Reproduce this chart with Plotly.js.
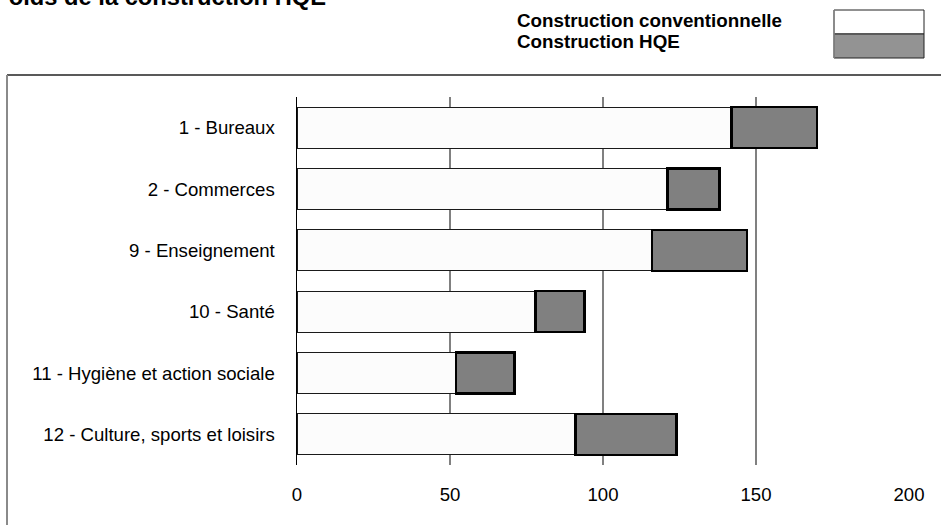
<!DOCTYPE html>
<html>
<head>
<meta charset="utf-8">
<script src="https://cdn.plot.ly/plotly-3.0.1.min.js"></script>
<style>
html,body{margin:0;padding:0;background:#fff;}
#chart{width:941px;height:525px;}
</style>
</head>
<body>
<div id="chart"></div>
<script>
// Data
const categories = [
  "1 - Bureaux",
  "2 - Commerces",
  "9 - Enseignement",
  "10 - Santé",
  "11 - Hygiène et action sociale",
  "12 - Culture, sports et loisirs"
];
const conventionnelle = [142, 121, 116, 78, 52, 91];
const surcoutHQE = [28, 17, 31, 16, 19, 33];
const xTicks = [0, 50, 100, 150, 200];
const seriesNames = ["Construction conventionnelle", "Construction HQE"];
const titleText = "Poids de la construction HQE";

// Layout helpers (pixel -> paper)
const W = 941, H = 525;
const M = {l: 297, r: 32, t: 97, b: 60};
const PW = W - M.l - M.r, PH = H - M.t - M.b;
const px = x => (x - M.l) / PW;
const py = y => (H - M.b - y) / PH;

const FONT = "Liberation Sans, Arial, Helvetica, sans-serif";

const traces = [
  {
    type: "bar", orientation: "h",
    y: categories, x: conventionnelle, name: seriesNames[0],
    marker: {color: "#fcfcfc", line: {color: "#1a1a1a", width: 1}},
    showlegend: false, hoverinfo: "x+y"
  },
  {
    type: "bar", orientation: "h",
    y: categories, x: surcoutHQE, name: seriesNames[1],
    marker: {color: "#808080", line: {color: "#000000", width: 2.5}},
    showlegend: false, hoverinfo: "x+y"
  }
];

const layout = {
  width: W, height: H,
  margin: M,
  paper_bgcolor: "#ffffff", plot_bgcolor: "#ffffff",
  barmode: "stack",
  bargap: 0.33,
  font: {family: FONT, size: 18.6, color: "#000"},
  xaxis: {
    range: [0, 200],
    tickvals: xTicks,
    ticktext: xTicks.map(String),
    showgrid: true, gridcolor: "#808080", gridwidth: 1.5,
    zeroline: false, showline: false,
    ticks: "", ticklabelstandoff: 16,
    tickfont: {family: FONT, size: 18.6, color: "#000"},
    fixedrange: true
  },
  yaxis: {
    autorange: "reversed",
    showgrid: false, zeroline: false,
    showline: true, linecolor: "#000", linewidth: 1.5,
    ticks: "", ticklabelstandoff: 17,
    tickfont: {family: FONT, size: 18.6, color: "#000"},
    fixedrange: true
  },
  shapes: [
    // outer frame (top dark, left gray)
    {type: "line", xref: "paper", yref: "paper", x0: px(7), x1: px(960), y0: py(75), y1: py(75),
     line: {color: "#222", width: 1.5}},
    {type: "line", xref: "paper", yref: "paper", x0: px(7), x1: px(7), y0: py(75), y1: py(540),
     line: {color: "#8a8a8a", width: 2}},
    // legend swatches
    {type: "rect", xref: "paper", yref: "paper", x0: px(834), x1: px(924), y0: py(34), y1: py(10),
     fillcolor: "#ffffff", line: {color: "#222", width: 1}},
    {type: "rect", xref: "paper", yref: "paper", x0: px(834), x1: px(924), y0: py(58), y1: py(34),
     fillcolor: "#939393", line: {color: "#222", width: 1}},
    {type: "line", xref: "paper", yref: "paper", x0: px(834), x1: px(834), y0: py(58), y1: py(10),
     line: {color: "#8a8a8a", width: 1.5}}
  ],
  annotations: [
    {xref: "paper", yref: "paper", x: px(-9), y: py(12), xanchor: "left", yanchor: "bottom",
     text: "<b>" + titleText + "</b>", showarrow: false,
     font: {family: FONT, size: 23.7, color: "#000"}},
    {xref: "paper", yref: "paper", x: px(515), y: py(21), xanchor: "left", yanchor: "middle",
     text: "<b>" + seriesNames[0] + "</b>", showarrow: false,
     font: {family: FONT, size: 18.8, color: "#000"}},
    {xref: "paper", yref: "paper", x: px(515), y: py(41), xanchor: "left", yanchor: "middle",
     text: "<b>" + seriesNames[1] + "</b>", showarrow: false,
     font: {family: FONT, size: 18.8, color: "#000"}}
  ]
};

Plotly.newPlot("chart", traces, layout, {displayModeBar: false, staticPlot: true});
</script>
</body>
</html>
